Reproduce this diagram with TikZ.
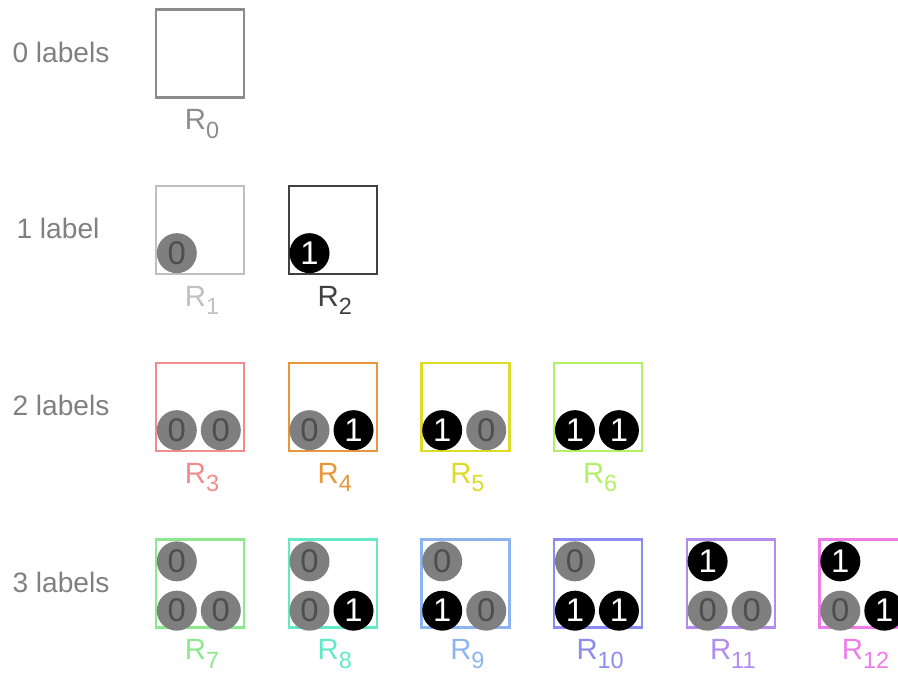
\documentclass[tikz,border=0pt]{standalone}
\usepackage{fontspec}
\setmainfont{Liberation Sans}
\usetikzlibrary{calc}

\definecolor{labgray}{HTML}{808080}
\definecolor{zerogray}{HTML}{7F7F7F}
\definecolor{zerotext}{HTML}{4E4E4E}
\definecolor{c0}{HTML}{8C8C8C}
\definecolor{c1}{HTML}{C0C0C0}
\definecolor{c2}{HTML}{404040}
\definecolor{c3}{HTML}{F08C8C}
\definecolor{c4}{HTML}{E8963C}
\definecolor{c5}{HTML}{DCDC28}
\definecolor{c6}{HTML}{B4F064}
\definecolor{c7}{HTML}{8CE88C}
\definecolor{c8}{HTML}{64E8C8}
\definecolor{c9}{HTML}{8CB4F0}
\definecolor{c10}{HTML}{8C8CF0}
\definecolor{c11}{HTML}{B48CF0}
\definecolor{c12}{HTML}{F07CEA}

\newcommand\rsub[1]{\raisebox{-0.3em}{\fontsize{20}{20}\selectfont #1}}

\tikzset{
  rbox/.style={draw, line width=2pt, minimum size=2.64cm, inner sep=0pt},
  lab/.style={circle, minimum size=1.2cm, inner sep=0pt, font=\fontsize{28}{28}\selectfont},
  zero/.style={lab, fill=zerogray, text=zerotext},
  one/.style={lab, fill=black, text=white},
  rowlab/.style={anchor=base, text=labgray, font=\fontsize{24}{24}\selectfont},
  rname/.style={anchor=base, font=\fontsize{25}{25}\selectfont},
}

\begin{document}
\begin{tikzpicture}[x=0.03cm, y=-0.03cm]
    \useasboundingbox (0,0) rectangle (898,672);
    \clip (0,0) rectangle (898,672);

    % row labels
    \node[rowlab] (row0) at (61,62) {0 labels};
    \node[rowlab] (row1) at (58,238) {1 label};
    \node[rowlab] (row2) at (61,415) {2 labels};
    \node[rowlab] (row3) at (61,592) {3 labels};

    % boxes and their names
    \foreach \n/\x/\y in {0/200/53.5, 1/200/230, 2/332.7/230,
        3/200/407, 4/332.7/407, 5/465.4/407, 6/598.1/407,
        7/200/583.5, 8/332.7/583.5, 9/465.4/583.5, 10/598.1/583.5,
        11/730.8/583.5, 12/863.5/583.5} {
        \node[rbox, draw=c\n] (r\n) at (\x,\y) {};
        \node[rname, text=c\n] (n\n) at ($(r\n.south)+(2,31)$) {R\rsub{\n}};
    }

    % one label
    \node[zero] (r1a) at ($(r1.south west)+(22,-22)$) {0};
    \node[one]  (r2a) at ($(r2.south west)+(22,-22)$) {1};

    % two labels
    \node[zero] (r3a) at ($(r3.south west)+(22,-22)$) {0};
    \node[zero] (r3b) at ($(r3.south west)+(66,-22)$) {0};
    \node[zero] (r4a) at ($(r4.south west)+(22,-22)$) {0};
    \node[one]  (r4b) at ($(r4.south west)+(66,-22)$) {1};
    \node[one]  (r5a) at ($(r5.south west)+(22,-22)$) {1};
    \node[zero] (r5b) at ($(r5.south west)+(66,-22)$) {0};
    \node[one]  (r6a) at ($(r6.south west)+(22,-22)$) {1};
    \node[one]  (r6b) at ($(r6.south west)+(66,-22)$) {1};

    % three labels
    \node[zero] (r7t) at ($(r7.north west)+(22,23)$) {0};
    \node[zero] (r7a) at ($(r7.south west)+(22,-18)$) {0};
    \node[zero] (r7b) at ($(r7.south west)+(66,-18)$) {0};
    \node[zero] (r8t) at ($(r8.north west)+(22,23)$) {0};
    \node[zero] (r8a) at ($(r8.south west)+(22,-18)$) {0};
    \node[one]  (r8b) at ($(r8.south west)+(66,-18)$) {1};
    \node[zero] (r9t) at ($(r9.north west)+(22,23)$) {0};
    \node[one]  (r9a) at ($(r9.south west)+(22,-18)$) {1};
    \node[zero] (r9b) at ($(r9.south west)+(66,-18)$) {0};
    \node[zero] (r10t) at ($(r10.north west)+(22,23)$) {0};
    \node[one]  (r10a) at ($(r10.south west)+(22,-18)$) {1};
    \node[one]  (r10b) at ($(r10.south west)+(66,-18)$) {1};
    \node[one]  (r11t) at ($(r11.north west)+(22,23)$) {1};
    \node[zero] (r11a) at ($(r11.south west)+(22,-18)$) {0};
    \node[zero] (r11b) at ($(r11.south west)+(66,-18)$) {0};
    \node[one]  (r12t) at ($(r12.north west)+(22,23)$) {1};
    \node[zero] (r12a) at ($(r12.south west)+(22,-18)$) {0};
    \node[one]  (r12b) at ($(r12.south west)+(66,-18)$) {1};
\end{tikzpicture}
\end{document}
